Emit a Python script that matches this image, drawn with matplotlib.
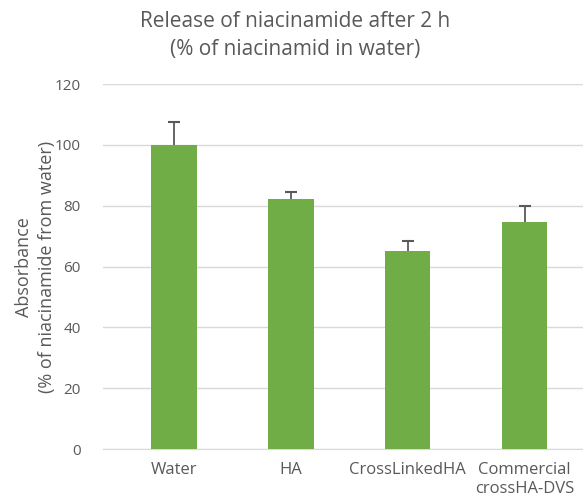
import matplotlib.pyplot as plt

categories = ["Water", "HA", "CrossLinkedHA", "Commercial\ncrossHA-DVS"]
values = [100.0, 82.4, 65.2, 74.8]
errors = [7.7, 2.3, 3.1, 5.2]
yticks = [0, 20, 40, 60, 80, 100, 120]

plt.rcParams['font.family'] = ['Open Sans', 'DejaVu Sans']
text_color = "#595959"

fig = plt.figure(figsize=(5.83, 5.04), dpi=100)
ax = fig.add_axes([0.1767, 0.109, 0.8233, 0.724])

x = list(range(len(categories)))
tops = [v + e for v, e in zip(values, errors)]
ax.bar(x, values, width=0.39, color="#70AD47", zorder=3)
# upper error bars only (cap on top)
ax.vlines(x, values, tops, color="#595959", linewidth=1.3, zorder=4)
ax.plot(x, tops, linestyle="none", marker="_", markersize=9,
        markeredgewidth=1.5, color="#595959", zorder=4)

ax.set_xlim(-0.607, 3.5)
ax.set_ylim(0, 120)
ax.set_yticks(yticks)
ax.set_xticks(x)
ax.set_xticklabels(categories, fontsize=12, color=text_color, linespacing=1.25)
ax.tick_params(axis="y", labelsize=11, colors=text_color, length=0, pad=16)
ax.tick_params(axis="x", length=0, pad=9)
ax.grid(axis="y", color="#d9d9d9", linewidth=1, zorder=0)
for s in ["top", "right", "left"]:
    ax.spines[s].set_visible(False)
ax.spines["bottom"].set_color("#d9d9d9")

ax.set_ylabel("Absorbance\n(% of niacinamide from water)", fontsize=13,
              color=text_color, labelpad=-1, linespacing=1.35)
fig.suptitle("Release of niacinamide after 2 h\n(% of niacinamid in water)",
             x=0.506, y=0.978, fontsize=15, color=text_color, linespacing=1.45)

plt.savefig("out.png", dpi=100)
